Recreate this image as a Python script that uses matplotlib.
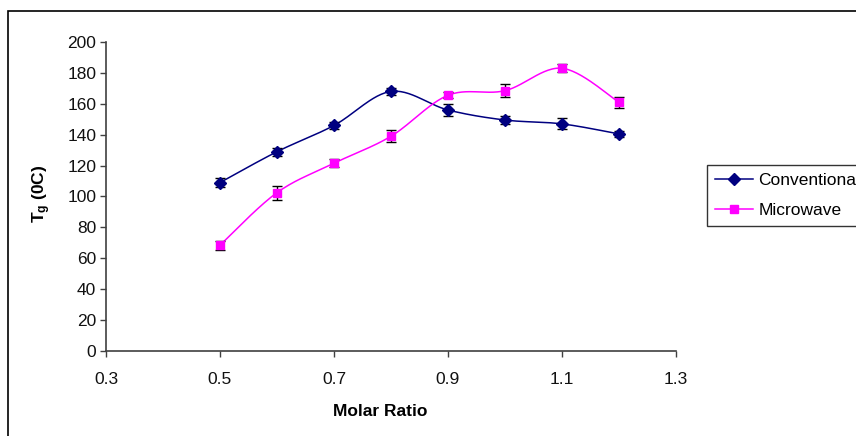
import numpy as np
import matplotlib
matplotlib.use("Agg")
import matplotlib.pyplot as plt
from matplotlib.patches import Rectangle
from matplotlib.lines import Line2D

plt.rcParams['font.family'] = ['Liberation Sans', 'DejaVu Sans']
plt.rcParams['mathtext.fontset'] = 'custom'
plt.rcParams['mathtext.rm'] = 'Liberation Sans'
plt.rcParams['mathtext.bf'] = 'Liberation Sans:bold'

molar_ratio = [0.5, 0.6, 0.7, 0.8, 0.9, 1.0, 1.1, 1.2]
conventional = [109, 129, 146, 168, 156, 149.5, 147, 140.5]
conventional_err = [3, 2.5, 2, 2, 4, 2.5, 3.5, 2]
microwave = [68.5, 102.5, 121.5, 139, 165.5, 168.5, 183, 161]
microwave_err = [3, 4.5, 2.5, 4, 2, 4, 2.5, 3.5]
x_ticks = [0.3, 0.5, 0.7, 0.9, 1.1, 1.3]
y_ticks = [0, 20, 40, 60, 80, 100, 120, 140, 160, 180, 200]


def smooth(x, y, n=30):
    P = np.column_stack([x, y]).astype(float)
    out = [P[0]]
    for i in range(len(P) - 1):
        p0 = P[i - 1] if i > 0 else P[i]
        p1, p2 = P[i], P[i + 1]
        p3 = P[i + 2] if i + 2 < len(P) else P[i + 1]
        c1 = p1 + (p2 - p0) / 6
        c2 = p2 - (p3 - p1) / 6
        t = np.linspace(0, 1, n)[1:, None]
        seg = ((1 - t) ** 3) * p1 + 3 * ((1 - t) ** 2) * t * c1 + 3 * (1 - t) * t ** 2 * c2 + t ** 3 * p2
        out.extend(seg)
    out = np.array(out)
    return out[:, 0], out[:, 1]


fig = plt.figure(figsize=(8.56, 4.36), dpi=100)
ax = fig.add_axes([106 / 856, 1 - 351 / 436, 570 / 856, 309 / 436])

navy = '#000080'
mag = '#FF00FF'
fs = 12.5

sx, sy = smooth(molar_ratio, conventional)
ax.plot(sx, sy, color=navy, lw=1.1, zorder=2)
sx, sy = smooth(molar_ratio, microwave)
ax.plot(sx, sy, color=mag, lw=1.1, zorder=2)

ax.errorbar(molar_ratio, conventional, yerr=conventional_err, fmt='none', ecolor='black',
            elinewidth=1, capsize=3.8, capthick=1, zorder=3)
ax.errorbar(molar_ratio, microwave, yerr=microwave_err, fmt='none', ecolor='black',
            elinewidth=1, capsize=3.8, capthick=1, zorder=3)
ax.plot(molar_ratio, conventional, linestyle='none', marker='D', ms=6.5, color=navy, zorder=4)
ax.plot(molar_ratio, microwave, linestyle='none', marker='s', ms=6.3, color=mag, zorder=4)

ax.set_xlim(0.3, 1.3)
ax.set_ylim(0, 200)
ax.set_xticks(x_ticks)
ax.set_xticklabels([str(v) for v in x_ticks])
ax.set_yticks(y_ticks)
for s in ['top', 'right']:
    ax.spines[s].set_visible(False)
for s in ['left', 'bottom']:
    ax.spines[s].set_color('#404040')
    ax.spines[s].set_linewidth(1.2)
ax.tick_params(axis='both', direction='out', length=4, width=1, color='#404040', labelsize=fs, colors='#111111')
ax.tick_params(axis='x', pad=11)
ax.tick_params(axis='y', pad=3)

fig.text(380 / 856, 1 - 411 / 436, 'Molar Ratio', ha='center', va='center', fontsize=fs, fontweight='bold')
fig.text(42 / 856, 1 - 194 / 436, r'$\mathbf{T_g}$ (0C)', ha='center', va='center', fontsize=fs,
         fontweight='bold', rotation=90)

h1 = Line2D([], [], color=navy, marker='D', ms=6, lw=1.1)
h2 = Line2D([], [], color=mag, marker='s', ms=6, lw=1.1)
leg = fig.legend([h1, h2], ['Conventional', 'Microwave'], loc='upper left',
                 bbox_to_anchor=(707 / 856, 1 - 165 / 436), fontsize=fs, frameon=True, fancybox=False,
                 edgecolor='black', borderpad=0.45, handlelength=2.2, handletextpad=0.3, labelspacing=0.85,
                 borderaxespad=0)
leg.get_frame().set_linewidth(1)

fig.patches.append(Rectangle((8 / 856, -0.1), 1.2, 1 - 11 / 436 + 0.1, transform=fig.transFigure,
                             fill=False, edgecolor='black', lw=1.2))

fig.savefig('out.png', dpi=100)
